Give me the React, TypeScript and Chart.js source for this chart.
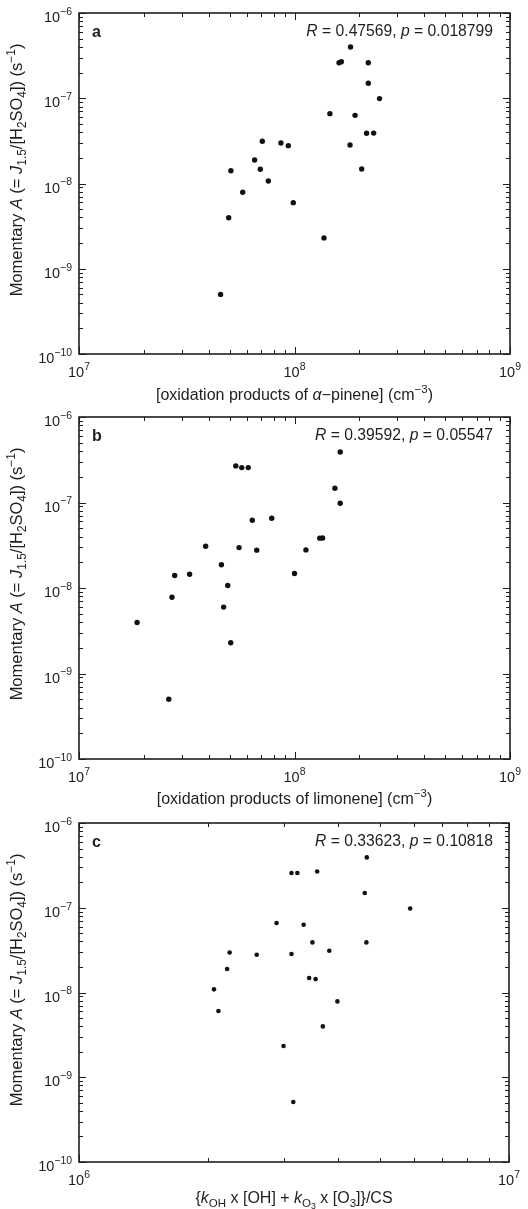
import React, { useEffect, useRef } from "react";
import { Chart, registerables } from "chart.js";

Chart.register(...registerables);

// ---------------- data ----------------
const A_X = [1.82e8, 1.61e8, 1.65e8, 2.2e8, 2.2e8, 2.48e8, 1.46e8, 1.91e8, 2.16e8, 2.33e8, 1.81e8, 2.05e8, 7.09e7, 8.65e7, 9.36e7, 6.53e7, 6.94e7, 5.07e7, 7.56e7, 5.75e7, 9.87e7, 4.95e7, 1.37e8, 4.54e7];
const A_Y = [3.99e-7, 2.61e-7, 2.68e-7, 2.61e-7, 1.5e-7, 9.9e-8, 6.6e-8, 6.3e-8, 3.88e-8, 3.9e-8, 2.83e-8, 1.48e-8, 3.13e-8, 2.99e-8, 2.78e-8, 1.89e-8, 1.47e-8, 1.41e-8, 1.07e-8, 7.9e-9, 5.96e-9, 3.97e-9, 2.3e-9, 5.0e-10];

const B_X = [1.63e8, 5.34e7, 5.69e7, 6.1e7, 1.54e8, 1.63e8, 6.37e7, 7.84e7, 3.87e7, 5.53e7, 6.68e7, 1.13e8, 1.31e8, 1.35e8, 4.58e7, 2.78e7, 3.26e7, 1.0e8, 4.9e7, 2.7e7, 4.69e7, 1.86e7, 5.06e7, 2.61e7];
const B_Y = [3.9e-7, 2.68e-7, 2.56e-7, 2.56e-7, 1.47e-7, 9.8e-8, 6.2e-8, 6.55e-8, 3.08e-8, 2.97e-8, 2.77e-8, 2.79e-8, 3.83e-8, 3.85e-8, 1.87e-8, 1.4e-8, 1.45e-8, 1.48e-8, 1.07e-8, 7.8e-9, 5.98e-9, 3.95e-9, 2.29e-9, 5.0e-10];

const C_X = [4.67e6, 3.12e6, 3.22e6, 3.58e6, 4.62e6, 5.89e6, 2.88e6, 3.33e6, 3.49e6, 4.66e6, 2.24e6, 2.59e6, 3.12e6, 3.82e6, 2.21e6, 3.43e6, 3.55e6, 2.06e6, 3.99e6, 2.11e6, 3.69e6, 2.99e6, 3.15e6];
const C_Y = [3.93e-7, 2.57e-7, 2.57e-7, 2.68e-7, 1.49e-7, 9.8e-8, 6.6e-8, 6.3e-8, 3.9e-8, 3.9e-8, 2.97e-8, 2.79e-8, 2.85e-8, 3.11e-8, 1.89e-8, 1.48e-8, 1.44e-8, 1.09e-8, 7.85e-9, 6.05e-9, 3.98e-9, 2.34e-9, 5.1e-10];

const Y_TICK_EXP = [-10, -9, -8, -7, -6];
const AB_X_TICK_EXP = [7, 8, 9];
const C_X_TICK_EXP = [6, 7];

const PANEL_LETTERS = ["a", "b", "c"];
const R_VALUES = ["0.47569", "0.39592", "0.33623"];
const P_VALUES = ["0.018799", "0.05547", "0.10818"];

// ---------------- rich text ----------------
type Seg = { t: string; it?: boolean; b?: boolean; v?: "sub" | "sup" | "subsub" };
const FAMILY = '"Liberation Sans", Arial, Helvetica, sans-serif';
const INK = "#1e1e1e";

function segSize(seg: Seg, size: number, ratio: number) {
  if (seg.v === "subsub") return size * 0.55;
  if (seg.v) return size * ratio;
  return size;
}
function segFont(seg: Seg, size: number, ratio: number) {
  return `${seg.it ? "italic " : ""}${seg.b ? "bold " : ""}${segSize(seg, size, ratio)}px ${FAMILY}`;
}
function segDy(seg: Seg, size: number, supRaise: number) {
  if (seg.v === "sup") return -supRaise * size;
  if (seg.v === "sub") return 0.24 * size;
  if (seg.v === "subsub") return 0.24 * size + 0.14 * size;
  return 0;
}
function drawRich(
  ctx: CanvasRenderingContext2D,
  segs: Seg[],
  x: number,
  y: number,
  align: "left" | "center" | "right",
  size: number,
  rotate = false,
  supRaise = 0.45,
  ratio = 0.72
) {
  ctx.save();
  let W = 0;
  const widths = segs.map((s) => {
    ctx.font = segFont(s, size, ratio);
    const w = ctx.measureText(s.t).width;
    W += w;
    return w;
  });
  ctx.translate(x, y);
  if (rotate) ctx.rotate(-Math.PI / 2);
  ctx.textAlign = "left";
  ctx.textBaseline = "alphabetic";
  ctx.fillStyle = INK;
  let cx = align === "center" ? -W / 2 : align === "right" ? -W : 0;
  segs.forEach((s, i) => {
    ctx.font = segFont(s, size, ratio);
    ctx.fillText(s.t, cx, segDy(s, size, supRaise));
    cx += widths[i];
  });
  ctx.restore();
}

const Y_TITLE: Seg[] = [
  { t: "Momentary " },
  { t: "A", it: true },
  { t: " (= " },
  { t: "J", it: true },
  { t: "1.5", v: "sub" },
  { t: "/[H" },
  { t: "2", v: "sub" },
  { t: "SO" },
  { t: "4", v: "sub" },
  { t: "]) (s" },
  { t: "−1", v: "sup" },
  { t: ")" },
];
const X_TITLES: Seg[][] = [
  [{ t: "[oxidation products of " }, { t: "α", it: true }, { t: "−pinene] (cm" }, { t: "−3", v: "sup" }, { t: ")" }],
  [{ t: "[oxidation products of limonene] (cm" }, { t: "−3", v: "sup" }, { t: ")" }],
  [
    { t: "{" },
    { t: "k", it: true },
    { t: "OH", v: "sub" },
    { t: " x [OH] + " },
    { t: "k", it: true },
    { t: "O", v: "sub" },
    { t: "3", v: "subsub" },
    { t: " x [O" },
    { t: "3", v: "sub" },
    { t: "]}/CS" },
  ],
];

// ---------------- panel config ----------------
type Panel = {
  xs: number[];
  ys: number[];
  xExp: number[];
  height: number;
  padRight: number;
  padBottom: number;
  titleOffset: number;
  radius: number;
  idx: number;
};
const PANELS: Panel[] = [
  { xs: A_X, ys: A_Y, xExp: AB_X_TICK_EXP, height: 404, padRight: 18, padBottom: 50, titleOffset: 46, radius: 2.7, idx: 0 },
  { xs: B_X, ys: B_Y, xExp: AB_X_TICK_EXP, height: 406, padRight: 18, padBottom: 51, titleOffset: 45, radius: 2.7, idx: 1 },
  { xs: C_X, ys: C_Y, xExp: C_X_TICK_EXP, height: 405, padRight: 19, padBottom: 53, titleOffset: 41, radius: 2.3, idx: 2 },
];

const TOP_PAD = 13;
const LEFT_W = 79;

function makeDecorPlugin(p: Panel) {
  return {
    id: "decor" + p.idx,
    afterDraw(chart: any) {
      const ctx: CanvasRenderingContext2D = chart.ctx;
      const { left, right, top, bottom } = chart.chartArea;
      const xs = chart.scales.x;
      const ys = chart.scales.y;
      ctx.save();
      ctx.strokeStyle = INK;
      // inward ticks
      ctx.lineWidth = 1;
      const major = 7;
      const minor = 4;
      const xLo = p.xExp[0];
      const xHi = p.xExp[p.xExp.length - 1];
      ctx.beginPath();
      for (let e = xLo; e <= xHi; e++) {
        for (let m = 1; m <= 9; m++) {
          if (e === xHi && m > 1) break;
          const px = Math.round(xs.getPixelForValue(m * Math.pow(10, e))) + 0.5;
          const L = m === 1 ? major : minor;
          ctx.moveTo(px, bottom);
          ctx.lineTo(px, bottom - L);
          ctx.moveTo(px, top);
          ctx.lineTo(px, top + L);
        }
      }
      const yLo = Y_TICK_EXP[0];
      const yHi = Y_TICK_EXP[Y_TICK_EXP.length - 1];
      for (let e = yLo; e <= yHi; e++) {
        for (let m = 1; m <= 9; m++) {
          if (e === yHi && m > 1) break;
          const py = Math.round(ys.getPixelForValue(m * Math.pow(10, e))) + 0.5;
          const L = m === 1 ? major : minor;
          ctx.moveTo(left, py);
          ctx.lineTo(left + L, py);
          ctx.moveTo(right, py);
          ctx.lineTo(right - L, py);
        }
      }
      ctx.stroke();
      // frame
      ctx.lineWidth = 1.6;
      ctx.strokeRect(left, top, right - left, bottom - top);
      ctx.restore();

      // y tick labels
      const TS = 14.5;
      Y_TICK_EXP.forEach((e) => {
        const py = ys.getPixelForValue(Math.pow(10, e));
        drawRich(ctx, [{ t: "10" }, { t: "−" + String(-e), v: "sup" }], left - 7, py + 9, "right", TS, false, 0.5, 0.72);
      });
      // x tick labels
      p.xExp.forEach((e) => {
        const px = xs.getPixelForValue(Math.pow(10, e));
        drawRich(ctx, [{ t: "10" }, { t: String(e), v: "sup" }], px, bottom + 23, "center", TS, false, 0.5, 0.72);
      });
      // axis titles
      drawRich(ctx, X_TITLES[p.idx], (left + right) / 2, bottom + p.titleOffset, "center", 16);
      drawRich(ctx, Y_TITLE, 22, top + 157, "center", 16.5, true);
      // annotation
      drawRich(
        ctx,
        [{ t: "R", it: true }, { t: " = " + R_VALUES[p.idx] + ", " }, { t: "p", it: true }, { t: " = " + P_VALUES[p.idx] }],
        493,
        top + 23,
        "right",
        15.7
      );
      drawRich(ctx, [{ t: PANEL_LETTERS[p.idx], b: true }], 92, top + 24, "left", 16);
    },
  };
}

function PanelChart({ p }: { p: Panel }) {
  const ref = useRef<HTMLCanvasElement | null>(null);
  useEffect(() => {
    const canvas = ref.current!;
    const xMin = Math.pow(10, p.xExp[0]);
    const xMax = Math.pow(10, p.xExp[p.xExp.length - 1]);
    const chart = new Chart(canvas, {
      type: "scatter",
      data: {
        datasets: [
          {
            data: p.xs.map((x, i) => ({ x, y: p.ys[i] })),
            pointRadius: p.radius,
            pointBackgroundColor: "#111",
            pointBorderWidth: 0,
            showLine: false,
          },
        ],
      },
      options: {
        responsive: false,
        animation: false,
        devicePixelRatio: 1,
        layout: { padding: { top: TOP_PAD, right: p.padRight, left: 0, bottom: 0 } },
        plugins: { legend: { display: false }, tooltip: { enabled: false } },
        scales: {
          x: {
            type: "logarithmic",
            min: xMin,
            max: xMax,
            grid: { display: false },
            border: { display: false },
            ticks: { display: false },
            afterFit: (s: any) => {
              s.height = p.padBottom;
            },
          },
          y: {
            type: "logarithmic",
            min: Math.pow(10, Y_TICK_EXP[0]),
            max: Math.pow(10, Y_TICK_EXP[Y_TICK_EXP.length - 1]),
            grid: { display: false },
            border: { display: false },
            ticks: { display: false },
            afterFit: (s: any) => {
              s.width = LEFT_W;
            },
          },
        },
      } as any,
      plugins: [makeDecorPlugin(p)],
    });
    return () => chart.destroy();
  }, [p]);
  return <canvas ref={ref} width={528} height={p.height} style={{ display: "block", width: 528, height: p.height }} />;
}

export default function App() {
  useEffect(() => {
    document.body.style.margin = "0";
    document.body.style.background = "#ffffff";
  }, []);
  return (
    <div style={{ width: 528, background: "#fff" }}>
      {PANELS.map((p) => (
        <PanelChart key={p.idx} p={p} />
      ))}
    </div>
  );
}
